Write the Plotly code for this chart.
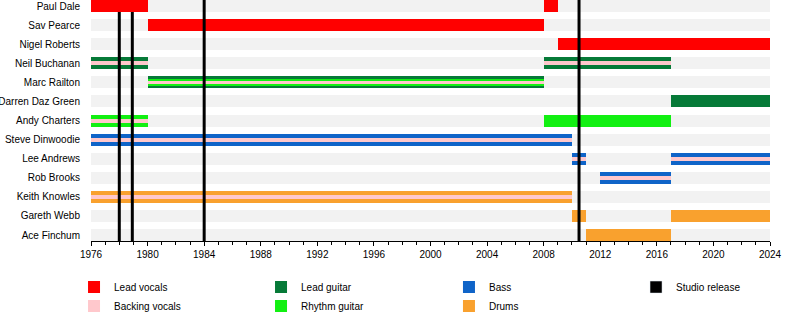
import plotly.graph_objects as go

# ---- data ----
members = ["Paul Dale", "Sav Pearce", "Nigel Roberts", "Neil Buchanan", "Marc Railton",
           "Darren Daz Green", "Andy Charters", "Steve Dinwoodie", "Lee Andrews",
           "Rob Brooks", "Keith Knowles", "Gareth Webb", "Ace Finchum"]

timeline_start = 1976
timeline_end = 2024

spell_member = ["Paul Dale", "Paul Dale", "Sav Pearce", "Nigel Roberts",
                "Neil Buchanan", "Neil Buchanan", "Neil Buchanan", "Neil Buchanan",
                "Marc Railton", "Marc Railton", "Marc Railton",
                "Darren Daz Green",
                "Andy Charters", "Andy Charters", "Andy Charters",
                "Steve Dinwoodie", "Steve Dinwoodie",
                "Lee Andrews", "Lee Andrews", "Lee Andrews", "Lee Andrews",
                "Rob Brooks", "Rob Brooks",
                "Keith Knowles", "Keith Knowles",
                "Gareth Webb", "Gareth Webb",
                "Ace Finchum"]
spell_role = ["vocals", "vocals", "vocals", "vocals",
              "lguitar", "bvocals", "lguitar", "bvocals",
              "lguitar", "rguitar", "bvocals",
              "lguitar",
              "rguitar", "bvocals", "rguitar",
              "bass", "bvocals",
              "bass", "bvocals", "bass", "bvocals",
              "bass", "bvocals",
              "drums", "bvocals",
              "drums", "drums",
              "drums"]
spell_start = [1976, 2008, 1980, 2009,
               1976, 1976, 2008, 2008,
               1980, 1980, 1980,
               2017,
               1976, 1976, 2008,
               1976, 1976,
               2010, 2010, 2017, 2017,
               2012, 2012,
               1976, 1976,
               2010, 2017,
               2011]
spell_end = [1980, 2009, 2008, 2024,
             1980, 1980, 2017, 2017,
             2008, 2008, 2008,
             2024,
             1980, 1980, 2017,
             2010, 2010,
             2011, 2011, 2024, 2024,
             2017, 2017,
             2010, 2010,
             2011, 2024,
             2017]

release_years = [1978.0, 1978.92, 1984.0, 2010.5]

roles = ["vocals", "lguitar", "rguitar", "bass", "drums", "bvocals"]
role_names = {"vocals": "Lead vocals", "bvocals": "Backing vocals", "lguitar": "Lead guitar",
              "rguitar": "Rhythm guitar", "bass": "Bass", "drums": "Drums"}
role_colors = {"vocals": "#ff0000", "bvocals": "#ffc8cc", "lguitar": "#067a38",
               "rguitar": "#12f012", "bass": "#0f64c8", "drums": "#f9a12e"}
# legend column for each role (column 4 holds the studio releases)
legend_column = {"vocals": "legend", "bvocals": "legend", "lguitar": "legend2",
                 "rguitar": "legend2", "bass": "legend3", "drums": "legend3"}
legend_rank = {"vocals": 1, "bvocals": 2, "lguitar": 1, "rguitar": 2, "bass": 1, "drums": 2}

# ---- styling ----
PX_PER_ROW = 19.08
def px(h):
    return h / PX_PER_ROW

y_top = -6 / PX_PER_ROW
y_bottom = len(members) - 1 + 6 / PX_PER_ROW

# width of an overlaid layer depends on its rank inside a spell
layer_widths = {1: [12], 2: [12, 4], 3: [12, 7, 3]}

row_index = {m: i for i, m in enumerate(members)}
groups = {}
for i in range(len(spell_member)):
    key = (spell_member[i], spell_start[i], spell_end[i])
    groups.setdefault(key, []).append(i)
spell_width = [0] * len(spell_member)
for key, idxs in groups.items():
    ws = layer_widths[len(idxs)]
    for r, i in enumerate(idxs):
        spell_width[i] = px(ws[r])

fig = go.Figure()

# background stripes
fig.add_trace(go.Bar(
    orientation="h",
    y=[row_index[m] for m in members],
    base=[timeline_start] * len(members),
    x=[timeline_end - timeline_start] * len(members),
    width=px(12),
    marker=dict(color="#f2f2f2", line=dict(width=0)),
    showlegend=False, hoverinfo="skip"))

# top row is drawn above the release lines (overlay subplot), others below
for role in roles:
    idx = [i for i in range(len(spell_role)) if spell_role[i] == role]
    lower = [i for i in idx if row_index[spell_member[i]] != 0]
    upper = [i for i in idx if row_index[spell_member[i]] == 0]
    fig.add_trace(go.Bar(
        orientation="h",
        y=[row_index[spell_member[i]] for i in lower],
        base=[spell_start[i] for i in lower],
        x=[spell_end[i] - spell_start[i] for i in lower],
        width=[spell_width[i] for i in lower],
        marker=dict(color=role_colors[role], line=dict(width=0)),
        name=role_names[role], legend=legend_column[role], legendrank=legend_rank[role]))
    if upper:
        fig.add_trace(go.Bar(
            orientation="h", xaxis="x2", yaxis="y2",
            y=[row_index[spell_member[i]] for i in upper],
            base=[spell_start[i] for i in upper],
            x=[spell_end[i] - spell_start[i] for i in upper],
            width=[spell_width[i] for i in upper],
            marker=dict(color=role_colors[role], line=dict(width=0)),
            name=role_names[role], showlegend=False))

# legend entry for studio releases
fig.add_trace(go.Bar(orientation="h", x=[None], y=[None], name="Studio release",
                     marker=dict(color="#000000"), legend="legend4"))

# studio release lines
lx, ly = [], []
for yr in release_years:
    lx += [yr, yr, None]
    ly += [y_top, y_bottom, None]
fig.add_trace(go.Scatter(x=lx, y=ly, mode="lines", line=dict(color="black", width=3),
                         showlegend=False, hoverinfo="skip", cliponaxis=False))

legend_style = dict(orientation="v", xanchor="left", y=-0.131, yanchor="top",
                    font=dict(size=10, color="black"), traceorder="normal",
                    itemclick=False, bgcolor="rgba(0,0,0,0)")

fig.update_layout(
    width=800, height=330,
    margin=dict(l=91, r=30, t=0, b=89),
    paper_bgcolor="white", plot_bgcolor="white",
    barmode="overlay", bargap=0,
    font=dict(family="Liberation Sans, Arial, sans-serif", size=10, color="black"),
    showlegend=True,
    legend=dict(x=-0.025, **legend_style),
    legend2=dict(x=0.2504, **legend_style),
    legend3=dict(x=0.5272, **legend_style),
    legend4=dict(x=0.8027, **legend_style),
    xaxis=dict(range=[timeline_start, timeline_end], tick0=timeline_start, dtick=4,
               ticks="outside", ticklen=4, tickcolor="black", showline=True,
               linecolor="black", linewidth=1, showgrid=False, zeroline=False,
               automargin=False,
               minor=dict(dtick=1, ticks="outside", ticklen=3, tickcolor="black", showgrid=False),
               tickfont=dict(size=10, color="black")),
    yaxis=dict(range=[y_bottom, y_top], automargin=False,
               tickvals=list(range(len(members))), ticktext=members,
               showgrid=False, zeroline=False, showline=False, ticks="",
               ticklabelstandoff=10, tickfont=dict(size=10, color="black")),
    xaxis2=dict(overlaying="x", matches="x", visible=False),
    yaxis2=dict(overlaying="y", matches="y", visible=False),
)

fig.write_html("out.html")
